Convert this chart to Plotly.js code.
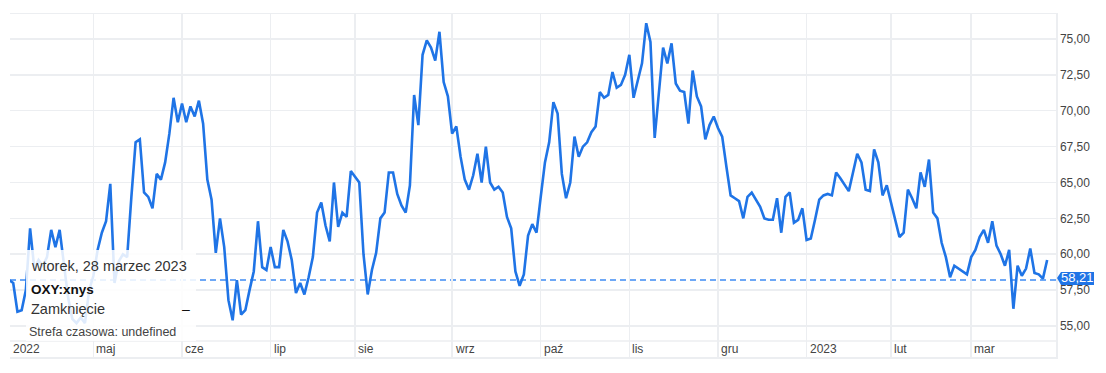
<!DOCTYPE html>
<html>
<head>
<meta charset="utf-8">
<script src="https://cdn.plot.ly/plotly-3.0.1.min.js"></script>
<style>html,body{margin:0;padding:0;background:#fff;}#chart{width:1106px;height:373px;}</style>
</head>
<body>
<div id="chart"></div>
<script>
// Daily closing prices, OXY, April 2022 - March 2023 (one value per trading day)
const closes = [
  // kwi 2022
  58.2, 58.0, 56.0, 56.1, 57.5, 61.8, 59.0, 59.6, 59.2, 59.8, 61.7, 60.5, 61.7, 59.5, 57.0, 55.5, 55.2, 55.6, 55.2, 57.5,
  // maj
  58.5, 60.3, 61.5, 62.3, 64.9, 58.0, 59.5, 60.0, 59.8, 64.0, 67.8, 68.0, 64.3, 64.0, 63.2, 65.6, 65.2, 66.4, 68.4, 70.9, 69.2,
  // cze
  70.5, 69.2, 70.3, 69.6, 70.7, 69.1, 65.2, 63.8, 60.1, 62.5, 60.5, 56.8, 55.4, 58.2, 55.8, 56.1, 57.5, 58.8, 62.3, 59.1, 58.9,
  // lip
  60.5, 59.1, 59.1, 61.7, 60.9, 59.6, 57.3, 58.0, 57.2, 58.4, 59.8, 62.9, 63.6, 62.0, 60.9, 65.0, 61.9, 62.9, 62.6, 65.8,
  // sie
  65.4, 65.0, 60.0, 57.2, 58.9, 60.1, 62.5, 62.9, 65.7, 65.7, 64.2, 63.4, 62.9, 64.8, 71.1, 69.0, 73.9, 74.9, 74.4, 73.5, 75.5, 72.0, 71.0,
  // wrz
  68.4, 68.9, 66.8, 65.2, 64.5, 65.5, 67.0, 65.0, 67.5, 65.0, 64.5, 64.7, 64.3, 62.6, 61.8, 58.8, 57.8, 58.6, 61.3, 62.1, 61.5,
  // paź
  64.0, 66.4, 67.8, 70.6, 69.8, 65.6, 63.9, 65.0, 68.2, 66.8, 67.5, 67.8, 68.5, 68.9, 71.3, 70.9, 71.1, 72.7, 71.6, 71.8, 72.5,
  // lis
  73.9, 70.9, 72.0, 73.3, 76.1, 74.8, 68.1, 71.1, 74.4, 73.3, 74.7, 71.9, 71.4, 71.3, 69.1, 72.8, 71.0, 70.3, 68.0, 69.0, 69.6,
  // gru
  68.8, 68.2, 66.1, 64.1, 63.9, 63.7, 62.5, 64.0, 64.3, 63.8, 63.3, 62.5, 62.4, 62.4, 63.9, 61.5, 64.0, 64.3, 62.2, 62.4, 63.2,
  // sty 2023
  61.0, 61.1, 62.4, 63.8, 64.1, 64.2, 64.1, 65.7, 65.3, 64.8, 64.4, 65.7, 67.0, 66.4, 64.5, 64.4, 67.3, 66.4, 64.1, 64.8,
  // lut
  63.6, 62.4, 61.2, 61.5, 64.5, 63.9, 63.2, 65.7, 64.7, 66.6, 62.9, 62.5, 60.8, 59.8, 58.4, 59.2, 59.0, 58.8, 58.6,
  // mar
  59.8, 60.3, 61.2, 61.7, 60.8, 62.3, 60.6, 60.0, 59.2, 60.3, 56.2, 59.2, 58.5, 59.0, 60.4, 58.7, 58.6, 58.3, 59.6
];
const monthLabels = ['2022', 'maj', 'cze', 'lip', 'sie', 'wrz', 'paź', 'lis', 'gru', '2023', 'lut', 'mar'];
const monthStarts = [0, 20, 41, 62, 82, 105, 126, 147, 168, 189, 209, 228];
const yTicks = [55, 57.5, 60, 62.5, 65, 67.5, 70, 72.5, 75];
const lastPrice = 58.21;
const tooltipDate = 'wtorek, 28 marzec 2023';
const tooltipSymbol = 'OXY:xnys';
const tooltipField = 'Zamknięcie';
const tooltipValue = '–';
const tooltipZone = 'Strefa czasowa: undefined';

const FONT = 'Arial, "Liberation Sans", sans-serif';
const GRID = '#eceef1';
const BLUE = '#1f74e6';

const idx = closes.map((_, i) => i);

const trace = {
  x: idx, y: closes, type: 'scatter', mode: 'lines',
  line: {color: BLUE, width: 2.6, shape: 'linear'},
  hoverinfo: 'skip'
};

const X0 = 0.237, X1 = 248.1;
const plotH = 373 - 14 - 16;
const pY = py => (357 - py) / plotH;   // pixel -> paper y
const pX = px => (px - 10) / 1046;      // pixel -> paper x
const idxToPaper = i => (i - X0) / (X1 - X0);

const annotations = [];
monthLabels.forEach((lab, k) => {
  annotations.push({
    x: Math.max(0, idxToPaper(monthStarts[k])), xref: 'paper', y: pY(349), yref: 'paper',
    text: lab, showarrow: false, xanchor: 'left', yanchor: 'middle',
    xshift: 1, font: {family: FONT, size: 12, color: '#444'}
  });
});
// tooltip texts
annotations.push(
  {x: pX(29), xref: 'paper', y: pY(266), yref: 'paper', text: tooltipDate, showarrow: false,
   xanchor: 'left', yanchor: 'middle', font: {family: FONT, size: 14.5, color: '#333'}},
  {x: pX(29), xref: 'paper', y: pY(289), yref: 'paper', text: '<b>' + tooltipSymbol + '</b>', showarrow: false,
   xanchor: 'left', yanchor: 'middle', font: {family: FONT, size: 13.5, color: '#111'}},
  {x: pX(29), xref: 'paper', y: pY(309), yref: 'paper', text: tooltipField, showarrow: false,
   xanchor: 'left', yanchor: 'middle', font: {family: FONT, size: 14.5, color: '#333'}},
  {x: pX(180), xref: 'paper', y: pY(309), yref: 'paper', text: tooltipValue, showarrow: false,
   xanchor: 'left', yanchor: 'middle', font: {family: FONT, size: 14, color: '#111'}},
  {x: pX(27), xref: 'paper', y: pY(332), yref: 'paper', text: tooltipZone, showarrow: false,
   xanchor: 'left', yanchor: 'middle', font: {family: FONT, size: 12.5, color: '#444'}}
);
// last price tag text
annotations.push({
  x: 1, xref: 'paper', y: lastPrice, yref: 'y', text: lastPrice.toFixed(2).replace('.', ','),
  showarrow: false, xanchor: 'center', yanchor: 'middle', xshift: 21, yshift: 2,
  font: {family: FONT, size: 13, color: '#ffffff'}
});

const shapes = [
  // dashed last price line
  {type: 'line', xref: 'paper', x0: 0, x1: 1, yref: 'y', y0: lastPrice, y1: lastPrice,
   line: {color: '#3f8cf3', width: 1.5, dash: '6px,4px'}, layer: 'between'},
  // band top line
  {type: 'line', xref: 'paper', x0: 0, x1: 1, yref: 'paper', y0: pY(341), y1: pY(341),
   line: {color: GRID, width: 1.5}, layer: 'between'},
  // tooltip box
  {type: 'rect', xref: 'paper', x0: pX(26), x1: pX(196), yref: 'paper', y0: pY(341), y1: pY(250),
   fillcolor: 'rgba(255,255,255,0.86)', line: {width: 0}, layer: 'above'},
  // price tag
  {type: 'path', xref: 'paper', yref: 'y', xsizemode: 'pixel', ysizemode: 'pixel',
   xanchor: 1, yanchor: lastPrice,
   path: 'M1,2 L5,8 L38,8 L38,-5 L5,-5 Z',
   fillcolor: BLUE, line: {width: 0}, layer: 'above'}
];

const layout = {
  width: 1106, height: 373,
  margin: {l: 10, r: 50, t: 14, b: 16, pad: 0},
  paper_bgcolor: '#ffffff', plot_bgcolor: '#ffffff',
  separators: ', ',
  showlegend: false,
  hovermode: false,
  font: {family: FONT},
  xaxis: {
    type: 'linear', range: [X0, X1],
    tickvals: monthStarts.slice(1), showticklabels: false, ticks: '',
    showgrid: true, gridcolor: GRID, gridwidth: 1.5, zeroline: false,
    showline: true, mirror: true, linecolor: GRID, linewidth: 1.5
  },
  yaxis: {
    side: 'right', range: [52.84, 76.74],
    tickvals: yTicks, tickformat: '.2f', ticks: '',
    tickfont: {family: FONT, size: 12, color: '#444'},
    showgrid: true, gridcolor: GRID, gridwidth: 1.5, zeroline: false,
    showline: true, linecolor: GRID, linewidth: 1.5
  },
  annotations: annotations,
  shapes: shapes
};

Plotly.newPlot('chart', [trace], layout, {displayModeBar: false, staticPlot: true});
</script>
</body>
</html>
